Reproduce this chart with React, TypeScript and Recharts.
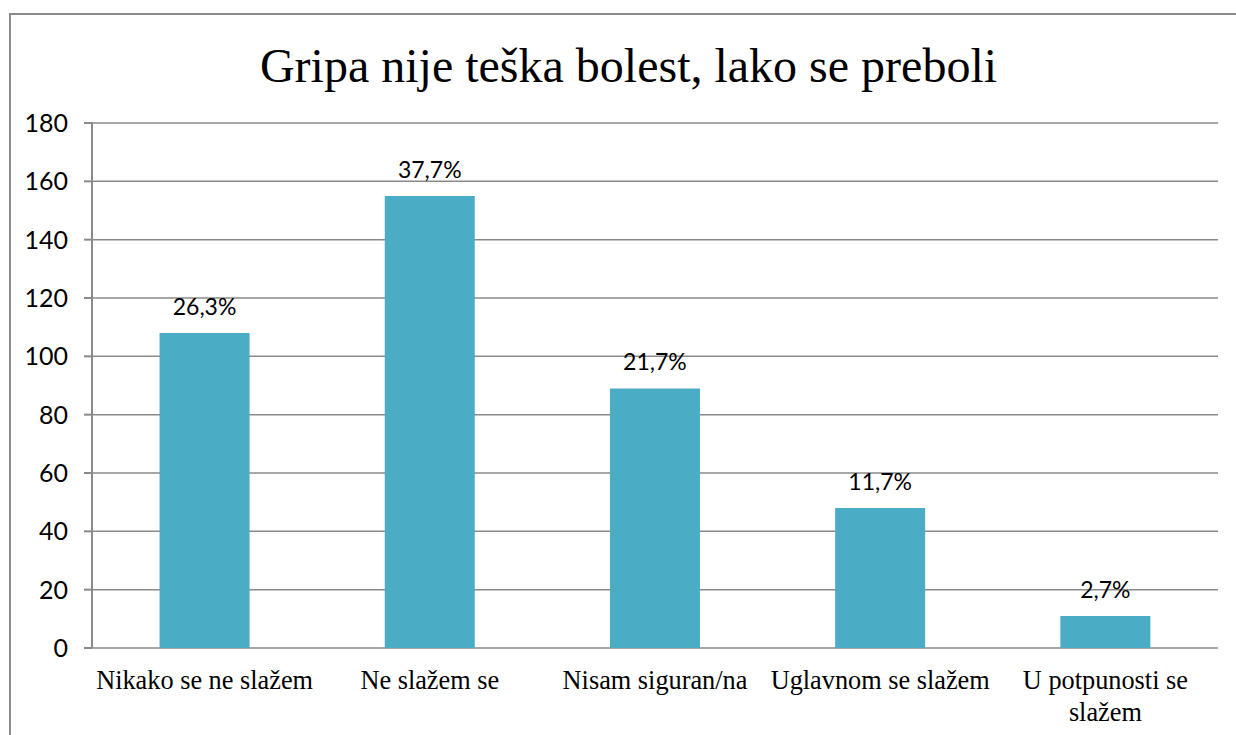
import { BarChart, Bar, XAxis, YAxis, CartesianGrid, LabelList } from 'recharts'

const categories = [
  'Nikako se ne slažem',
  'Ne slažem se',
  'Nisam siguran/na',
  'Uglavnom se slažem',
  'U potpunosti se slažem',
]
const counts = [108, 155, 89, 48, 11]
const percents = ['26,3%', '37,7%', '21,7%', '11,7%', '2,7%']
const yTicks = [0, 20, 40, 60, 80, 100, 120, 140, 160, 180]
const boundaryTicks = [0, 1, 2, 3, 4, 5]

const data = categories.map((name, i) => ({ name, count: counts[i], pct: percents[i] }))

const GRAY = '#8a8a8a'

// greedy word wrap by character count
function wrap(label: string, maxChars: number) {
  const lines: string[] = []
  let cur = ''
  for (const w of label.split(' ')) {
    const next = cur ? cur + ' ' + w : w
    if (next.length > maxChars && cur) {
      lines.push(cur)
      cur = w
    } else {
      cur = next
    }
  }
  if (cur) lines.push(cur)
  return lines
}

function CategoryTick(props: any) {
  const { x, y, payload } = props
  const lines = wrap(payload.value, 19)
  return (
    <text
      x={x}
      y={y + 33}
      textAnchor="middle"
      style={{ fontFamily: '"Liberation Serif", "Times New Roman", serif', fontSize: 26.3, fill: '#000' }}
    >
      {lines.map((l, i) => (
        <tspan key={i} x={x} dy={i === 0 ? 0 : 32}>
          {l}
        </tspan>
      ))}
    </text>
  )
}

export default function App() {
  return (
    <div style={{ position: 'absolute', left: 0, top: 0, width: 1236, height: 735, background: '#fff', overflow: 'hidden' }}>
      {/* outer frame */}
      <div
        style={{
          position: 'absolute',
          left: 9,
          top: 13,
          width: 1260,
          height: 760,
          borderLeft: `2px solid ${GRAY}`,
          borderTop: `2px solid ${GRAY}`,
        }}
      />
      <div
        style={{
          position: 'absolute',
          left: 9,
          width: 1239,
          top: 38,
          textAlign: 'center',
          fontFamily: '"Liberation Serif", "Times New Roman", serif',
          fontSize: 48,
          lineHeight: '56px',
          color: '#000',
        }}
      >
        Gripa nije teška bolest, lako se preboli
      </div>
      <div style={{ position: 'absolute', left: 0, top: 0 }}>
        <BarChart
          width={1236}
          height={735}
          data={data}
          margin={{ top: 123, right: 18, left: 12, bottom: 7 }}
          barCategoryGap="30%"
        >
          <CartesianGrid vertical={false} stroke={GRAY} strokeWidth={1.5} />
          <XAxis
            xAxisId="bounds"
            type="number"
            domain={[0, 5]}
            ticks={boundaryTicks}
            height={0}
            tick={false}
            tickSize={9}
            axisLine={{ stroke: GRAY, strokeWidth: 2 }}
            tickLine={{ stroke: GRAY, strokeWidth: 2 }}
          />
          <XAxis
            dataKey="name"
            height={80}
            axisLine={false}
            tickLine={false}
            interval={0}
            tick={<CategoryTick />}
          />
          <YAxis
            width={80}
            domain={[0, 180]}
            ticks={yTicks}
            tickSize={8}
            tickMargin={16}
            axisLine={{ stroke: GRAY, strokeWidth: 2 }}
            tickLine={{ stroke: GRAY, strokeWidth: 2 }}
            tick={{ fontFamily: 'Lato, "Open Sans", sans-serif', fontSize: 25, fill: '#000' }}
          />
          <Bar dataKey="count" fill="#4BACC6" isAnimationActive={false}>
            <LabelList
              dataKey="pct"
              position="top"
              offset={18}
              style={{ fontFamily: 'Lato, "Open Sans", sans-serif', fontSize: 23, fill: '#000' }}
            />
          </Bar>
        </BarChart>
      </div>
    </div>
  )
}
